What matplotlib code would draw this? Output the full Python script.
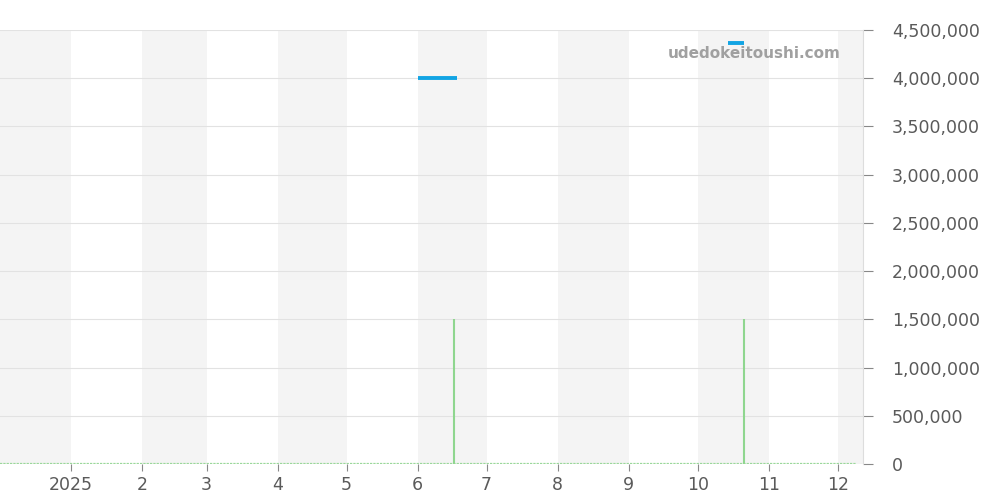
import matplotlib
matplotlib.use("Agg")
import matplotlib.pyplot as plt
from matplotlib.ticker import FuncFormatter
import pandas as pd

plt.rcParams["font.family"] = ["DejaVu Sans"]

# price segments (start, end, value)
price_start = ["2025-06-01", "2025-10-14"]
price_end = ["2025-06-18", "2025-10-21"]
price_value = [4000000, 4370000]

# volume spikes
vol_dates = ["2025-06-17", "2025-10-21"]
vol_values = [1500000, 1500000]
vol_range = ["2024-12-01", "2025-12-09"]

view_start = "2024-12-01"
view_end = "2025-12-12"
y_max = 4500000

fig = plt.figure(figsize=(10, 5), dpi=100)
ax = fig.add_axes([0.0, 0.072, 0.863, 0.868])

# alternating month bands
months = pd.date_range("2024-12-01", "2026-01-01", freq="MS")
for i in range(len(months) - 1):
    if i % 2 == 0:
        ax.axvspan(months[i], months[i + 1], color="#f4f4f4", zorder=0, lw=0)

for v in range(0, y_max + 1, 500000):
    ax.axhline(v, color="#e2e2e2", lw=0.8, zorder=1)

# zero volume baseline
ax.plot(pd.to_datetime(vol_range), [0, 0], color="#9ad89a", lw=1.6,
        linestyle=(0, (1, 0.5)), zorder=2)
ax.vlines(pd.to_datetime(vol_dates), 0, vol_values, color="#8fd68f", lw=1.5, zorder=2)

for s, e, v in zip(price_start, price_end, price_value):
    ax.plot(pd.to_datetime([s, e]), [v, v], color="#12a4e4", lw=2.8,
            solid_capstyle="butt", zorder=3)

ax.set_xlim(pd.Timestamp(view_start), pd.Timestamp(view_end))
ax.set_ylim(0, y_max)

ax.yaxis.tick_right()
ax.set_yticks(range(0, y_max + 1, 500000))
ax.yaxis.set_major_formatter(FuncFormatter(lambda v, p: f"{int(v):,}"))

ticks = pd.date_range("2025-01-01", "2025-12-01", freq="MS")
ax.set_xticks(ticks)
ax.set_xticklabels(["2025"] + [str(d.month) for d in ticks[1:]])

ax.tick_params(axis="both", colors="#888888", labelcolor="#5a5a5a",
               labelsize=12.5, length=6, width=0.8)
ax.tick_params(axis="x", length=5, pad=4)
ax.tick_params(axis="y", length=7, pad=14)

for side in ["top", "left", "bottom"]:
    ax.spines[side].set_visible(False)
ax.spines["right"].set_color("#dddddd")
ax.spines["right"].set_linewidth(0.8)

ax.text(0.974, 0.945, "udedokeitoushi.com", transform=ax.transAxes,
        ha="right", va="center", fontsize=11, fontweight="bold",
        color="#a0a0a0", zorder=4)

fig.savefig("out.png", dpi=100)
